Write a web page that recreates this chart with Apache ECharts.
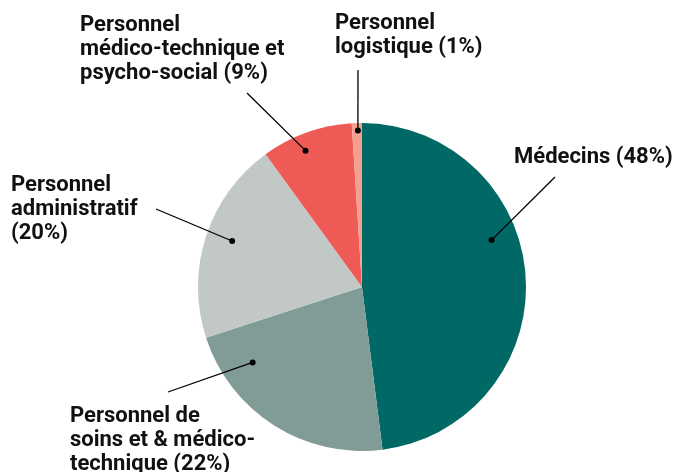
<!DOCTYPE html>
<html>
<head>
<meta charset="utf-8">
<script src="https://cdn.jsdelivr.net/npm/echarts@6/dist/echarts.min.js"></script>
<style>html,body{margin:0;padding:0;background:#fff;}#c{width:673px;height:472px;}</style>
</head>
<body>
<div id="c"></div>
<script>
// Data
const categories = ['Médecins', 'Personnel de soins et & médico-technique', 'Personnel administratif', 'Personnel médico-technique et psycho-social', 'Personnel logistique'];
const values = [48, 22, 20, 9, 1];
const labelTexts = ['Médecins (48%)', 'Personnel de\nsoins et & médico-\ntechnique (22%)', 'Personnel\nadministratif\n(20%)', 'Personnel\nmédico-technique et\npsycho-social (9%)', 'Personnel\nlogistique (1%)'];
const colors = ['#006966', '#819b96', '#c1c8c6', '#ee5a55', '#f5a08f'];

// Layout (label positions, leader line starts, anchor dot angle/radius fraction)
const CX = 362, CY = 287, R = 164;
const labelPos = [[514, 145], [70, 404], [11, 173], [80, 13], [335, 11]];
const lineStart = [[555, 177], [168, 392], [156, 209], [247, 93], [358, 70]];
const anchors = [[70.1, 0.84], [235.4, 0.81], [289.5, 0.84], [337.5, 0.9], [358.5, 0.955]];

const chart = echarts.init(document.getElementById('c'), null, {renderer: 'canvas'});
chart.setOption({
  backgroundColor: '#fff',
  animation: false,
  polar: {center: [CX, CY], radius: R},
  angleAxis: {type: 'value', min: 0, max: 360, startAngle: 90, clockwise: true, show: false},
  radiusAxis: {type: 'value', min: 0, max: 1, show: false},
  series: [
    {
      type: 'pie',
      center: [CX, CY],
      radius: [0, R],
      startAngle: 90,
      clockwise: true,
      silent: true,
      z: 1,
      data: categories.map((c, i) => ({name: c, value: values[i], itemStyle: {color: colors[i]}})),
      label: {
        show: true,
        formatter: p => labelTexts[p.dataIndex],
        fontFamily: 'Roboto',
        fontWeight: 'bold',
        fontSize: 22,
        lineHeight: 24,
        color: '#111',
        align: 'left',
        overflow: 'none'
      },
      labelLine: {show: false},
      labelLayout: function (params) {
        const i = params.dataIndex;
        return {
          x: labelPos[i][0],
          y: labelPos[i][1],
          align: 'left',
          verticalAlign: 'top',
          width: 300
        };
      }
    },
    {
      type: 'custom',
      coordinateSystem: 'polar',
      silent: true,
      z: 5,
      data: anchors.map((a, i) => [a[1], a[0], i]),
      renderItem: function (params, api) {
        const i = api.value(2);
        const p = api.coord([api.value(0), api.value(1)]);
        return {
          type: 'group',
          children: [
            {type: 'line', shape: {x1: lineStart[i][0], y1: lineStart[i][1], x2: p[0], y2: p[1]}, style: {stroke: '#000', lineWidth: 1.3}},
            {type: 'circle', shape: {cx: p[0], cy: p[1], r: 3}, style: {fill: '#000'}}
          ]
        };
      }
    }
  ]
});
</script>
</body>
</html>
